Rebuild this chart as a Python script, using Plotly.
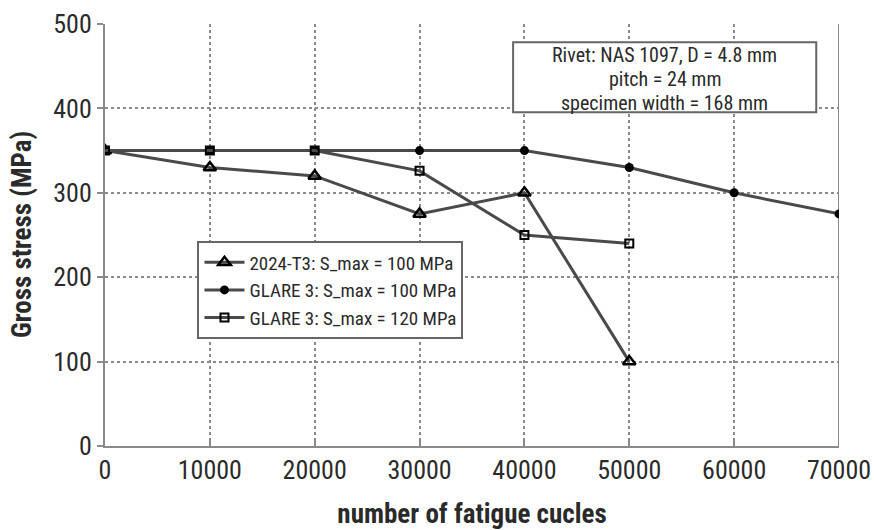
import plotly.graph_objects as go

# Fatigue test data: gross residual stress vs. number of cycles
cycles_2024 = [0, 10000, 20000, 30000, 40000, 50000]
stress_2024 = [350, 330, 320, 275, 300, 100]

cycles_glare100 = [0, 10000, 20000, 30000, 40000, 50000, 60000, 70000]
stress_glare100 = [350, 350, 350, 350, 350, 330, 300, 275]

cycles_glare120 = [0, 10000, 20000, 30000, 40000, 50000]
stress_glare120 = [350, 350, 350, 326, 250, 240]

x_ticks = [0, 10000, 20000, 30000, 40000, 50000, 60000, 70000]
y_ticks = [0, 100, 200, 300, 400, 500]

note_lines = ["Rivet: NAS 1097, D = 4.8 mm", "pitch = 24 mm", "specimen width = 168 mm"]

FONT = "Roboto Condensed, Liberation Sans Narrow, DejaVu Sans Condensed, sans-serif"
LINE = "#4a4a4a"
GRID = "#8a8a8a"
TEXT = "#2a2a2a"

fig = go.Figure()

fig.add_trace(go.Scatter(
    x=cycles_2024, y=stress_2024, mode="lines+markers",
    name="2024-T3: S_max = 100 MPa",
    line=dict(color=LINE, width=3),
    marker=dict(symbol="triangle-up-open", size=11, color="black",
                line=dict(color="black", width=2.5)),
))
fig.add_trace(go.Scatter(
    x=cycles_glare100, y=stress_glare100, mode="lines+markers",
    name="GLARE 3: S_max = 100 MPa",
    line=dict(color=LINE, width=3),
    marker=dict(symbol="circle", size=9, color="black"),
))
fig.add_trace(go.Scatter(
    x=cycles_glare120, y=stress_glare120, mode="lines+markers",
    name="GLARE 3: S_max = 120 MPa",
    line=dict(color=LINE, width=3),
    marker=dict(symbol="square-open", size=8, color="black",
                line=dict(color="black", width=2)),
))

# solid right frame line at the end of the x range
fig.add_shape(type="line", xref="x", yref="y", x0=70000, x1=70000, y0=0, y1=500,
              line=dict(color=GRID, width=2), layer="below")

# specimen description box
fig.add_shape(type="rect", xref="paper", yref="paper",
              x0=0.556, x1=0.969, y0=0.791, y1=0.957,
              line=dict(color="#666", width=2), fillcolor="white", layer="above")
for line_text, ypos in zip(note_lines, [0.9265, 0.8697, 0.8128]):
    fig.add_annotation(
        xref="paper", yref="paper", x=0.7625, y=ypos,
        xanchor="center", yanchor="middle", showarrow=False,
        text=line_text, font=dict(family=FONT, size=20, color=TEXT),
        borderpad=0,
    )

# y-axis title, placed close to the left edge
fig.add_annotation(
    xref="paper", yref="paper", x=-0.113, y=0.5,
    xanchor="center", yanchor="middle", showarrow=False, textangle=-90,
    text="<b>Gross stress (MPa)</b>", font=dict(family=FONT, size=27, color=TEXT),
)

fig.update_layout(
    width=874, height=530,
    margin=dict(l=105, r=35, t=24, b=84, autoexpand=False),
    paper_bgcolor="white", plot_bgcolor="white",
    font=dict(family=FONT, color=TEXT),
    showlegend=True,
    legend=dict(
        x=0.126, y=0.485, xanchor="left", yanchor="top",
        bgcolor="white", bordercolor="#666", borderwidth=2,
        font=dict(family=FONT, size=19, color=TEXT),
        tracegroupgap=0, itemwidth=40,
    ),
    xaxis=dict(
        range=[0, 70000], tickvals=x_ticks, ticktext=[str(v) for v in x_ticks],
        showgrid=True, gridcolor=GRID, griddash="dot", gridwidth=2,
        showline=True, linecolor=GRID, linewidth=2,
        ticks="inside", ticklen=7, tickcolor=GRID, tickwidth=2,
        tickfont=dict(family=FONT, size=26, color=TEXT),
        ticklabeloverflow="allow", automargin=False,
        zeroline=False,
        title=dict(text="<b>number of fatigue cucles</b>", standoff=24,
                   font=dict(family=FONT, size=27, color=TEXT)),
    ),
    yaxis=dict(
        range=[0, 500], tickvals=y_ticks,
        showgrid=True, gridcolor=GRID, griddash="dot", gridwidth=2,
        showline=True, linecolor=GRID, linewidth=2,
        ticks="outside", ticklen=6, tickcolor=GRID, tickwidth=2,
        tickfont=dict(family=FONT, size=26, color=TEXT),
        automargin=False,
        zeroline=False,
    ),
)

fig.write_html("out.html")
